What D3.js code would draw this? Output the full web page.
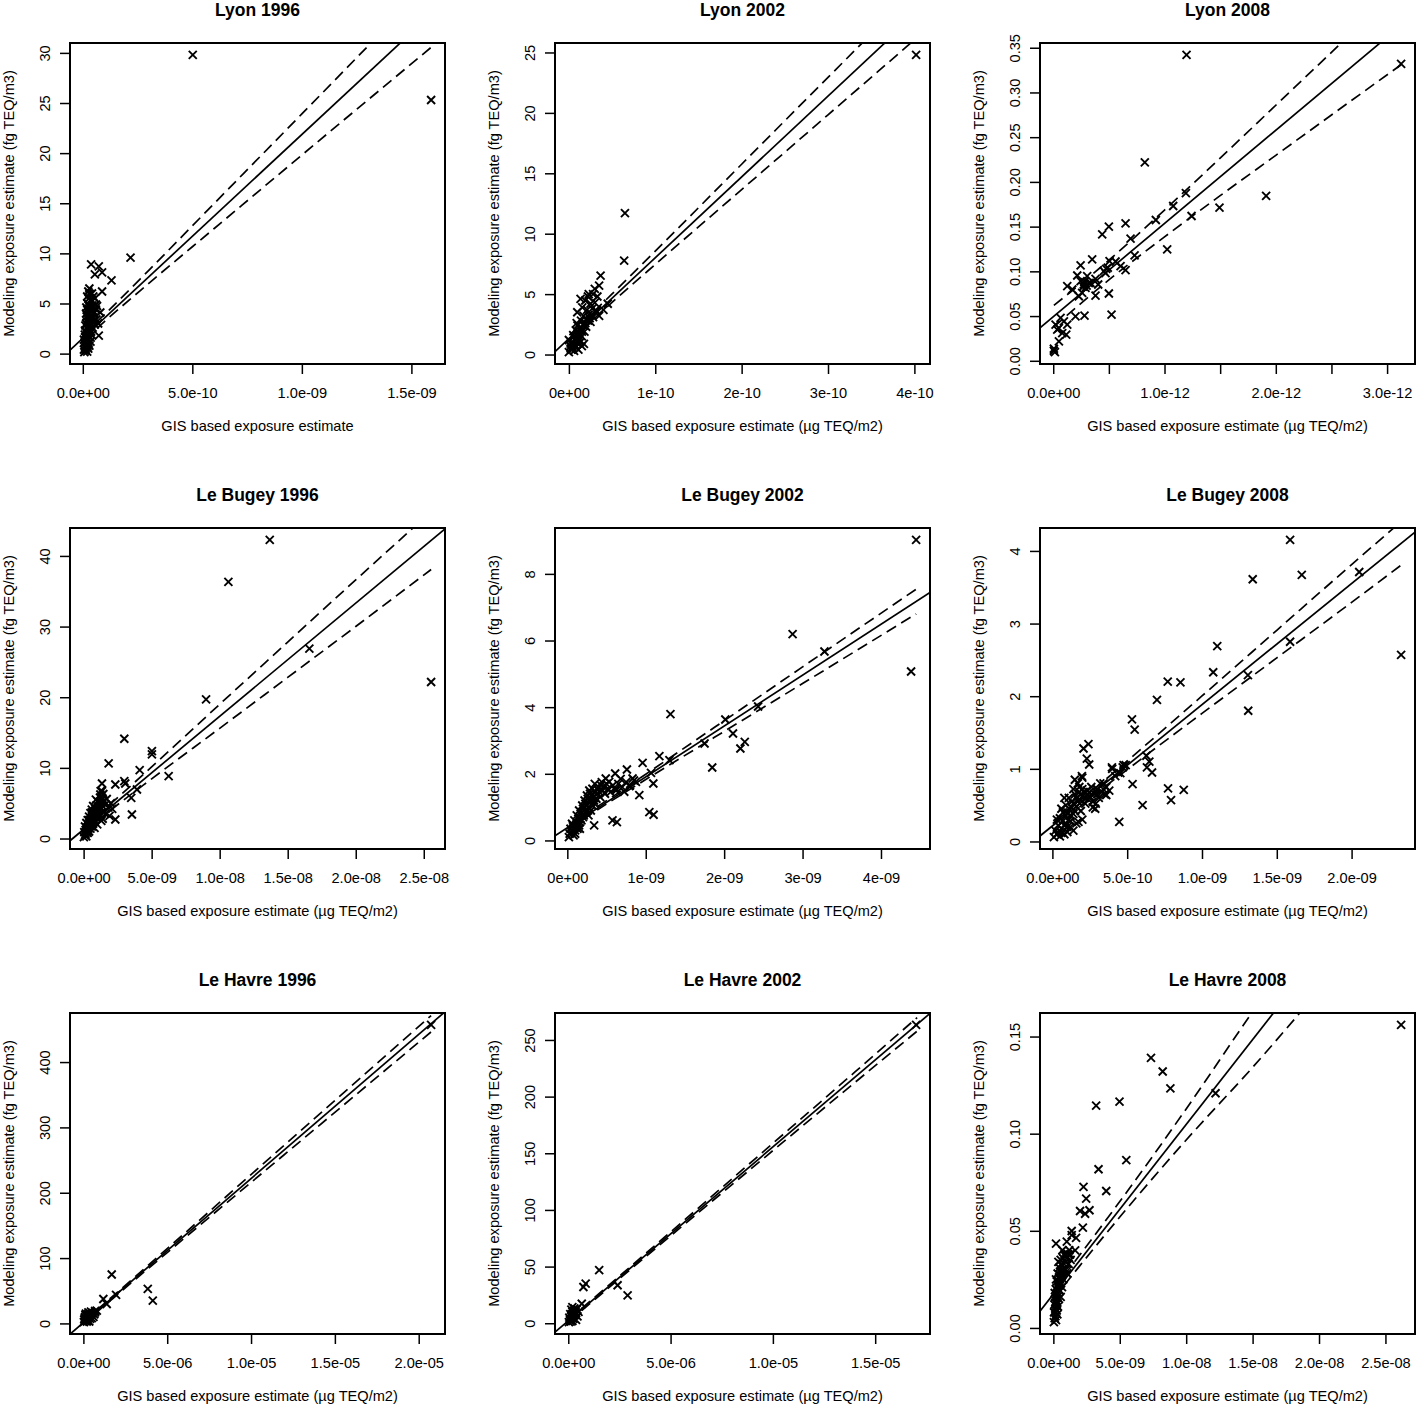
<!DOCTYPE html>
<html><head><meta charset="utf-8">
<script src="https://cdn.jsdelivr.net/npm/d3@7"></script>
<style>
body{margin:0;background:#fff}
svg{display:block}
text{font-family:"Liberation Sans",Arial,Helvetica,sans-serif;fill:#000}
</style>
</head><body>
<svg id="c" width="1418" height="1408"></svg>
<script>
// ---------------- DATA ----------------
const titles = ["Lyon 1996","Lyon 2002","Lyon 2008","Le Bugey 1996","Le Bugey 2002","Le Bugey 2008","Le Havre 1996","Le Havre 2002","Le Havre 2008"];
const yLabel = "Modeling exposure estimate (fg TEQ/m3)";
const xLabels = ["GIS based exposure estimate","GIS based exposure estimate (µg TEQ/m2)","GIS based exposure estimate (µg TEQ/m2)",
  "GIS based exposure estimate (µg TEQ/m2)","GIS based exposure estimate (µg TEQ/m2)","GIS based exposure estimate (µg TEQ/m2)",
  "GIS based exposure estimate (µg TEQ/m2)","GIS based exposure estimate (µg TEQ/m2)","GIS based exposure estimate (µg TEQ/m2)"];

// x values are given in the panel's unit: 1e-10, 1e-10, 1e-12, 1e-9, 1e-9, 1e-9, 1e-6, 1e-6, 1e-9
const xTicks = [[0,5,10,15],[0,1,2,3,4],[0,0.5,1,1.5,2,2.5,3],[0,5,10,15,20,25],[0,1,2,3,4],[0,0.5,1,1.5,2],[0,5,10,15,20],[0,5,10,15],[0,5,10,15,20,25]];
const xTickLabels = [
  ["0.0e+00","5.0e-10","1.0e-09","1.5e-09"],
  ["0e+00","1e-10","2e-10","3e-10","4e-10"],
  ["0.0e+00","","1.0e-12","","2.0e-12","","3.0e-12"],
  ["0.0e+00","5.0e-09","1.0e-08","1.5e-08","2.0e-08","2.5e-08"],
  ["0e+00","1e-09","2e-09","3e-09","4e-09"],
  ["0.0e+00","5.0e-10","1.0e-09","1.5e-09","2.0e-09"],
  ["0.0e+00","5.0e-06","1.0e-05","1.5e-05","2.0e-05"],
  ["0.0e+00","5.0e-06","1.0e-05","1.5e-05"],
  ["0.0e+00","5.0e-09","1.0e-08","1.5e-08","2.0e-08","2.5e-08"]];
const yTicks = [[0,5,10,15,20,25,30],[0,5,10,15,20,25],[0,0.05,0.1,0.15,0.2,0.25,0.3,0.35],[0,10,20,30,40],[0,2,4,6,8],[0,1,2,3,4],[0,100,200,300,400],[0,50,100,150,200,250],[0,0.05,0.1,0.15]];
const yTickLabels = [
  ["0","5","10","15","20","25","30"],
  ["0","5","10","15","20","25"],
  ["0.00","0.05","0.10","0.15","0.20","0.25","0.30","0.35"],
  ["0","10","20","30","40"],
  ["0","2","4","6","8"],
  ["0","1","2","3","4"],
  ["0","100","200","300","400"],
  ["0","50","100","150","200","250"],
  ["0.00","0.05","0.10","0.15"]];

// fitted regression line (intercept, slope in panel x unit)
const fitIntercepts = [1.54, 1.32, 0.0493, 1.29, 0.381, 0.214, 1.16, 2.07, 0.0174];
const fitSlopes     = [2.032, 6.69, 0.1042, 1.601, 1.526, 1.669, 22.06, 15.35, 0.008735];
// confidence band: x positions and half widths
const bandXs = [
  [0.07,1,3,6,10,15.9],
  [0.006,0.5,1,2,3,4.02],
  [0.006,0.5,1,1.5,2,2.5,3.126],
  [0.02,2,5,10,15,20,25.54],
  [0.02,0.5,1,2,3,4.448],
  [0.006,0.25,0.5,1,1.5,2,2.331],
  [0.033,2,5,10,15,20.74],
  [0.025,2,5,10,14,17.05],
  [0.042,2,5,10,15,20,26.18]];
const bandHalfWidths = [
  [0.3,0.35,0.65,1.25,2.05,3.3],
  [0.25,0.35,0.55,1.05,1.55,2.05],
  [0.012,0.011,0.015,0.021,0.028,0.035,0.044],
  [0.35,0.45,0.85,1.7,2.5,3.3,4.1],
  [0.07,0.05,0.08,0.16,0.25,0.37],
  [0.06,0.04,0.06,0.12,0.19,0.26,0.30],
  [1.5,1.8,3,6,9,12.5],
  [1.0,1.1,1.7,3.2,4.6,6],
  [0.0025,0.0028,0.004,0.008,0.0143,0.0185,0.024]];

const lyon1996 = [[5.02,29.8],[15.9,25.3],[2.18,9.57],[0.38,8.9],[0.73,8.7],[0.55,7.9],[0.88,8.1],[1.31,7.3],[0.88,6.2],[0.65,4.75],[0.8,4.1],[0.73,1.8],[0.55,5.5],[0.6,4.4],[0.5,3.6],
  [0.07,0.15],[0.12,0.3],[0.2,0.2],[0.1,0.6],[0.25,0.5],[0.15,0.9],[0.3,0.8],[0.08,1.1],[0.2,1.3],[0.35,1.2],[0.12,1.6],[0.28,1.7],[0.18,2.0],[0.4,1.9],[0.1,2.3],[0.3,2.4],[0.22,2.7],[0.45,2.6],[0.15,3.0],[0.35,3.1],[0.25,3.4],[0.5,3.3],[0.18,3.7],[0.4,3.8],[0.28,4.1],[0.2,4.4],[0.45,4.3],[0.32,4.7],[0.22,5.0],[0.4,5.2],[0.28,5.5],[0.35,5.9],[0.25,6.2],[0.3,6.5],[0.42,6.0],[0.05,0.4],[0.15,1.4],[0.38,2.2],[0.55,2.9],[0.62,3.4],[0.7,3.0],[0.5,4.0],[0.6,4.9],[0.48,5.7],[0.33,2.0],[0.23,2.5],[0.14,0.5],[0.27,1.0],[0.36,1.6],[0.09,1.9],
  [0.1,0.8],[0.2,1.0],[0.18,1.6],[0.26,2.1],[0.12,2.8],[0.3,2.9],[0.2,3.2],[0.38,3.5],[0.3,3.9],[0.15,4.0],[0.35,4.4],[0.26,4.8],[0.38,5.4],[0.2,5.7],[0.3,6.0],[0.22,0.7],[0.05,1.4],[0.28,3.6],[0.44,4.8],[0.16,4.6]];
const lyon2002 = [[4.02,24.8],[0.649,11.7],[0.64,7.77],[0.367,6.53],[0.35,5.7],[0.30,5.43],[0.23,5.0],[0.19,4.47],[0.135,4.6],[0.155,3.9],[0.097,3.5],[0.174,0.88],
  [0.0,0.2],[0.03,0.4],[0.06,0.3],[0.02,0.7],[0.08,0.6],[0.04,1.0],[0.1,0.9],[0.0,1.2],[0.07,1.3],[0.12,1.2],[0.05,1.6],[0.1,1.7],[0.15,1.5],[0.08,2.0],[0.13,2.1],[0.18,1.9],[0.1,2.4],[0.16,2.5],[0.2,2.3],[0.14,2.8],[0.2,2.9],[0.25,2.7],[0.17,3.2],[0.23,3.3],[0.28,3.1],[0.21,3.7],[0.27,3.8],[0.32,3.6],[0.25,4.2],[0.3,4.3],[0.22,4.8],[0.28,5.0],[0.33,4.8],[0.02,0.5],[0.04,0.9],[0.11,0.4],[0.15,0.7],[0.06,1.5],[0.13,1.0],[0.09,2.6],[0.4,3.7],[0.45,4.2],[0.35,3.2],
  [0.05,0.5],[0.09,1.1],[0.12,1.5],[0.15,1.9],[0.18,2.4],[0.22,2.8],[0.26,3.3],[0.02,0.9],[0.07,0.8],[0.11,1.8],[0.19,2.6],[0.24,3.0]];
const lyon2008 = [[1.198,0.342],[3.126,0.332],[0.823,0.2218],[1.913,0.1844],[1.192,0.1874],[1.078,0.1731],[1.494,0.1713],[1.243,0.1619],[0.922,0.1574],[0.650,0.1537],[0.500,0.150],[0.440,0.1414],[0.695,0.1365],[1.024,0.1245],[0.731,0.1178],[0.350,0.1133],[0.506,0.1114],[0.246,0.1066],[0.56,0.111],[0.605,0.1058],[0.650,0.1013],[0.476,0.1028],[0.455,0.1002],[0.216,0.0954],[0.380,0.0916],[0.305,0.0946],[0.275,0.0853],[0.246,0.089],[0.335,0.0871],[0.290,0.0815],[0.126,0.0834],[0.171,0.0797],[0.404,0.0853],[0.380,0.0729],[0.23,0.0722],[0.26,0.076],[0.500,0.0752],[0.524,0.0516],[0.281,0.0505],[0.2,0.0497],[0.066,0.0479],[0.021,0.0404],[0.051,0.0366],[0.096,0.0441],[0.126,0.0404],[0.036,0.0348],[0.081,0.031],[0.117,0.0292],[0.051,0.0217],[0.006,0.0112],[0.015,0.0097],[0.006,0.0135],[0.28,0.088],[0.3,0.084],[0.32,0.087],[0.27,0.083],[0.47,0.098],[0.49,0.104]];
const bugey1996 = [[13.68,42.27],[10.64,36.32],[16.59,26.87],[25.54,22.15],[9.0,19.69],[2.99,14.12],[5.02,12.37],[5.02,11.9],[1.84,10.63],[4.12,9.68],[6.25,8.83],[2.99,8.12],[3.06,7.79],[1.35,7.79],[2.33,7.65],[3.92,6.94],[3.50,5.76],[3.55,3.40],[2.33,2.69],[1.23,6.23],[1.35,6.7],
  [0.02,0.2],[0.1,0.5],[0.2,0.3],[0.05,0.9],[0.3,0.8],[0.15,1.2],[0.4,1.0],[0.25,1.5],[0.5,1.4],[0.1,1.7],[0.35,1.9],[0.6,1.7],[0.2,2.2],[0.45,2.3],[0.7,2.1],[0.3,2.6],[0.55,2.8],[0.8,2.5],[0.4,3.1],[0.65,3.2],[0.9,3.0],[0.5,3.6],[0.75,3.7],[1.0,3.4],[0.6,4.1],[0.85,4.2],[1.1,3.9],[0.7,4.6],[0.95,4.7],[1.2,4.4],[1.05,5.2],[1.3,5.0],[1.5,5.3],[1.2,5.8],[1.7,5.6],[1.4,2.8],[1.6,3.5],[1.0,2.0],[1.3,2.5],[1.8,4.4],[2.0,5.0],[0.8,1.5],[0.3,1.1],[0.6,2.5],[1.1,3.0],[1.9,3.2],[2.1,4.2],[1.45,6.3],[0.9,5.5],[1.25,6.7],
  [0.15,0.7],[0.35,1.4],[0.55,2.0],[0.75,2.8],[0.95,3.6],[1.15,4.6],[0.45,1.8],[0.65,2.9],[0.85,3.4],[1.05,4.1],[1.35,4.7],[0.25,0.9],[0.5,2.1],[0.7,3.1],[0.9,3.9],[1.4,5.6],[1.6,4.8],[0.4,2.6],[0.6,3.7],[1.2,3.3]];
const bugey2002 = [[4.448,9.02],[4.384,5.07],[2.873,6.19],[3.279,5.67],[1.315,3.79],[2.433,4.02],[2.015,3.63],[2.113,3.21],[2.263,2.96],[2.207,2.76],[1.75,2.91],[1.848,2.19],[1.174,2.53],[1.302,2.41],[0.96,2.33],[1.067,2.03],[1.097,1.71],[0.918,1.36],[1.046,0.85],[1.10,0.77],[0.76,2.13],[0.61,2.01],[0.832,1.86],[0.576,0.60],[0.632,0.55],[0.342,0.45],[0.49,1.86],[0.427,1.66],[0.534,1.76],[0.619,1.56],[0.726,1.46],[0.875,1.76],[0.79,1.63],
  [0.02,0.1],[0.05,0.25],[0.08,0.15],[0.04,0.35],[0.1,0.3],[0.07,0.45],[0.12,0.5],[0.09,0.6],[0.15,0.45],[0.14,0.65],[0.18,0.6],[0.12,0.75],[0.17,0.8],[0.21,0.75],[0.15,0.9],[0.2,0.95],[0.24,0.85],[0.19,1.05],[0.23,1.1],[0.27,1.0],[0.22,1.2],[0.26,1.25],[0.3,1.15],[0.25,1.35],[0.29,1.4],[0.33,1.3],[0.28,1.5],[0.32,1.55],[0.36,1.45],[0.35,1.7],[0.4,1.6],[0.38,1.4],[0.42,1.3],[0.45,1.5],[0.48,1.4],[0.52,1.55],[0.55,1.45],[0.3,0.9],[0.35,1.1],[0.1,0.2],[0.06,0.5],[0.16,0.35],[0.44,1.75],[0.5,1.7],[0.58,1.65],[0.62,1.5],[0.65,1.7],[0.7,1.6],[0.75,1.75],[0.68,1.85],[0.8,1.65],[0.85,1.8],
  [0.11,0.4],[0.16,0.55],[0.2,0.7],[0.25,0.9],[0.28,1.2],[0.31,1.35],[0.34,1.2],[0.38,1.55],[0.13,0.35],[0.19,0.85],[0.24,1.05],[0.27,0.75],[0.32,1.05],[0.41,1.45],[0.46,1.62],[0.03,0.2],[0.08,0.35],[0.17,0.65],[0.22,1.0],[0.37,1.25]];
const bugey2008 = [[1.589,4.152],[2.051,3.71],[1.667,3.67],[1.339,3.61],[2.331,2.57],[1.589,2.75],[1.102,2.69],[1.075,2.33],[1.307,2.29],[1.309,1.80],[0.771,2.20],[0.856,2.19],[0.699,1.95],[0.532,1.68],[0.550,1.54],[0.628,1.18],[0.648,1.10],[0.632,1.02],[0.666,0.95],[0.536,0.79],[0.773,0.73],[0.878,0.71],[0.793,0.57],[0.603,0.50],[0.447,0.27],[0.208,1.28],[0.241,1.34],[0.23,1.14],[0.246,1.06],[0.197,0.90],[0.398,1.02],[0.476,1.05],[0.454,0.94],[0.342,0.80],[0.297,0.71],[0.286,0.45],[0.174,0.27],
  [0.01,0.06],[0.03,0.1],[0.05,0.07],[0.02,0.15],[0.06,0.18],[0.08,0.1],[0.04,0.22],[0.07,0.28],[0.1,0.2],[0.05,0.32],[0.09,0.35],[0.12,0.28],[0.07,0.4],[0.11,0.45],[0.14,0.38],[0.09,0.5],[0.13,0.55],[0.16,0.48],[0.11,0.6],[0.15,0.65],[0.18,0.58],[0.14,0.72],[0.18,0.75],[0.21,0.68],[0.17,0.8],[0.2,0.62],[0.23,0.7],[0.25,0.62],[0.28,0.66],[0.3,0.72],[0.33,0.68],[0.36,0.75],[0.27,0.47],[0.29,0.52],[0.31,0.6],[0.35,0.65],[0.38,0.7],[0.22,0.52],[0.12,0.2],[0.16,0.25],[0.2,0.3],[0.03,0.3],[0.06,0.45],[0.1,0.13],[0.14,0.15],[0.08,0.6],[0.19,0.42],[0.24,0.58],[0.26,0.75],[0.32,0.8],[0.44,0.95],[0.47,1.02],[0.49,1.05],[0.42,0.9],[0.36,0.64],[0.4,1.0],[0.15,0.85],[0.2,0.88],
  [0.06,0.12],[0.09,0.25],[0.12,0.35],[0.15,0.42],[0.17,0.55],[0.19,0.65],[0.22,0.6],[0.25,0.68],[0.08,0.22],[0.11,0.3],[0.13,0.47],[0.16,0.6],[0.2,0.72],[0.27,0.55],[0.3,0.65],[0.34,0.72],[0.04,0.12],[0.1,0.4],[0.14,0.52],[0.18,0.68]];
const havre1996 = [[20.74,456.9],[1.69,74.9],[3.84,52.8],[4.14,34.9],[1.19,37.4],[1.39,29.7],[1.95,43.6],[0.8,19.5],[0.4,14.4],[0.7,16.9],
  [0.03,2],[0.1,4],[0.2,3],[0.05,6],[0.15,8],[0.25,6],[0.1,10],[0.3,9],[0.2,12],[0.35,12],[0.15,15],[0.4,15],[0.3,17],[0.5,13],[0.45,18],[0.6,10],[0.25,4],[0.4,7],[0.08,8],[0.55,16],[0.35,3],[0.18,5],[0.5,8],[0.12,13],[0.28,14],[0.65,14],[0.7,19]];
const havre2002 = [[17.0,263.3],[1.51,46.9],[0.85,35.0],[0.74,32.0],[2.41,33.5],[2.90,24.6],[0.66,17.2],[0.2,14.2],[0.36,9.8],
  [0.03,1],[0.1,3],[0.2,2],[0.05,5],[0.15,6],[0.25,4],[0.1,8],[0.3,7],[0.2,10],[0.35,9],[0.15,12],[0.4,12],[0.3,13],[0.45,6],[0.08,3.5],[0.22,7.5],[0.5,10],[0.12,1.5],[0.28,11],[0.18,4.5],[0.38,3]];
const havre2008 = [[26.18,0.156],[7.35,0.139],[8.23,0.132],[8.81,0.1233],[12.21,0.1208],[4.98,0.1165],[3.22,0.1144],[5.49,0.0864],[3.40,0.0817],[3.98,0.0705],[2.27,0.0726],[2.47,0.0666],[2.01,0.0602],[2.72,0.0606],[2.39,0.0588],[2.22,0.0516],[1.38,0.0499],[1.38,0.0478],[1.71,0.0464],[1.01,0.0444],[0.2,0.0434],[1.64,0.0399],[1.26,0.0378],
  [0.04,0.003],[0.1,0.005],[0.2,0.004],[0.05,0.008],[0.15,0.01],[0.3,0.007],[0.08,0.012],[0.22,0.014],[0.35,0.011],[0.12,0.016],[0.28,0.018],[0.42,0.015],[0.18,0.02],[0.35,0.022],[0.5,0.019],[0.25,0.024],[0.42,0.026],[0.58,0.023],[0.32,0.028],[0.5,0.029],[0.65,0.027],[0.45,0.031],[0.6,0.033],[0.78,0.03],[0.55,0.035],[0.72,0.036],[0.9,0.034],[0.85,0.038],[1.0,0.036],[1.15,0.033],[1.3,0.035],[1.2,0.04],[0.4,0.02],[0.3,0.013],[0.65,0.021],[0.75,0.025],[0.95,0.03],[0.15,0.006],[0.25,0.009],[0.1,0.018],[0.2,0.025],[0.38,0.034],[0.68,0.04],[1.05,0.028],[0.55,0.016],
  [0.2,0.008],[0.3,0.016],[0.45,0.022],[0.55,0.027],[0.7,0.03],[0.8,0.033],[0.5,0.025],[0.35,0.018],[0.6,0.029],[0.9,0.037],[0.25,0.012],[0.4,0.024],[0.65,0.032],[1.1,0.038],[0.15,0.013]];

const panelPoints = [lyon1996, lyon2002, lyon2008, bugey1996, bugey2002, bugey2008, havre1996, havre2002, havre2008];

// ---------------- DRAW ----------------
const svg = d3.select("#c");
const CELL = 485, BL = 70, BR = 445, BT = 43, BB = 364;
const FS = 14.6;

panelPoints.forEach((pts, i) => {
  const col = i % 3, row = Math.floor(i / 3);
  const ox = col * CELL, oy = row * CELL;
  const xe = d3.extent(pts, d => d[0]), ye = d3.extent(pts, d => d[1]);
  const xp = (xe[1] - xe[0]) * 0.04, yp = (ye[1] - ye[0]) * 0.04;
  const x = d3.scaleLinear().domain([xe[0] - xp, xe[1] + xp]).range([ox + BL, ox + BR]);
  const y = d3.scaleLinear().domain([ye[0] - yp, ye[1] + yp]).range([oy + BB, oy + BT]);

  const clipId = "clip" + i;
  svg.append("clipPath").attr("id", clipId).append("rect")
    .attr("x", ox + BL).attr("y", oy + BT).attr("width", BR - BL).attr("height", BB - BT);

  const g = svg.append("g");

  // axes
  const gx = g.append("g").attr("transform", `translate(0,${oy + BB})`)
    .call(d3.axisBottom(x).tickValues(xTicks[i]).tickFormat((d, j) => xTickLabels[i][j]).tickSize(10).tickPadding(13.4));
  gx.select(".domain").remove();
  gx.selectAll("line").attr("stroke", "#000").attr("stroke-width", 1.5);
  gx.selectAll("text").attr("font-size", FS).attr("font-family", "Liberation Sans, Arial, sans-serif").attr("fill", "#000");

  const gy = g.append("g").attr("transform", `translate(${ox + BL},0)`)
    .call(d3.axisLeft(y).tickValues(yTicks[i]).tickFormat((d, j) => yTickLabels[i][j]).tickSize(10));
  gy.select(".domain").remove();
  gy.selectAll("line").attr("stroke", "#000").attr("stroke-width", 1.5);
  gy.selectAll("text").attr("font-size", FS).attr("font-family", "Liberation Sans, Arial, sans-serif").attr("fill", "#000")
    .attr("x", null).attr("dy", null).attr("text-anchor", "middle")
    .attr("transform", "translate(-20,0) rotate(-90)");

  // lines
  const lg = g.append("g").attr("clip-path", `url(#${clipId})`);
  const a = fitIntercepts[i], b = fitSlopes[i];
  const dom = x.domain();
  lg.append("line")
    .attr("x1", x(dom[0])).attr("y1", y(a + b * dom[0]))
    .attr("x2", x(dom[1])).attr("y2", y(a + b * dom[1]))
    .attr("stroke", "#000").attr("stroke-width", 1.7);
  const bx = bandXs[i], bh = bandHalfWidths[i];
  [1, -1].forEach(s => {
    const lineGen = d3.line().curve(d3.curveMonotoneX)
      .x(d => x(d)).y((d, j) => y(a + b * d + s * bh[j]));
    lg.append("path").datum(bx).attr("d", lineGen)
      .attr("fill", "none").attr("stroke", "#000").attr("stroke-width", 1.7)
      .attr("stroke-dasharray", "11,6");
  });

  // points (pch 4 crosses)
  const r = 4;
  g.append("g").selectAll("path").data(pts).join("path")
    .attr("d", d => `M${x(d[0]) - r},${y(d[1]) - r}L${x(d[0]) + r},${y(d[1]) + r}M${x(d[0]) - r},${y(d[1]) + r}L${x(d[0]) + r},${y(d[1]) - r}`)
    .attr("stroke", "#000").attr("stroke-width", 1.9).attr("fill", "none");

  // box
  g.append("rect").attr("x", ox + BL).attr("y", oy + BT).attr("width", BR - BL).attr("height", BB - BT)
    .attr("fill", "none").attr("stroke", "#000").attr("stroke-width", 2);

  // texts
  g.append("text").attr("x", ox + (BL + BR) / 2).attr("y", oy + 15.5).attr("text-anchor", "middle")
    .attr("font-size", 17.5).attr("font-weight", "bold").text(titles[i]);
  g.append("text").attr("x", ox + (BL + BR) / 2).attr("y", oy + 431).attr("text-anchor", "middle")
    .attr("font-size", FS).text(xLabels[i]);
  g.append("text").attr("transform", `translate(${ox + 14},${oy + (BT + BB) / 2}) rotate(-90)`).attr("text-anchor", "middle")
    .attr("font-size", FS).text(yLabel);
});
</script>
</body></html>
